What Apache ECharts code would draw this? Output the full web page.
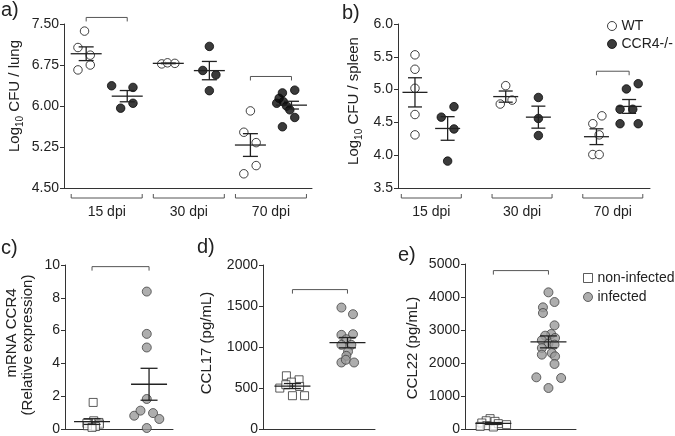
<!DOCTYPE html>
<html><head><meta charset="utf-8">
<script src="https://cdn.jsdelivr.net/npm/echarts@6/dist/echarts.min.js"></script>
<style>html,body{margin:0;padding:0;background:#fff}#c{width:675px;height:436px}</style>
</head><body><div id="c"></div>
<script>
// ---------- DATA ----------
// Panel a: Log10 CFU / lung
const aGroups = ['15 dpi', '30 dpi', '70 dpi'];
const aTicks = [4.50, 5.25, 6.00, 6.75, 7.50];
const aWT = [[7.37, 7.07, 6.93, 6.75, 6.66], [6.77, 6.79, 6.78], [5.91, 5.52, 5.33, 4.91, 4.76]];
const aWTjit = [[-0.02, -0.10, 0.05, 0.05, -0.10], [-0.08, -0.01, 0.08], [0, -0.08, 0.07, 0.07, -0.08]];
const aKO = [[6.37, 6.34, 6.05, 5.96], [7.09, 6.65, 6.57, 6.28], [6.29, 6.24, 6.14, 6.05, 6.08, 6.00, 5.93, 5.79, 5.62]];
const aKOjit = [[-0.19, 0.07, 0.07, -0.08], [0, -0.08, 0.08, 0], [0.04, -0.11, -0.15, -0.18, -0.10, -0.06, -0.02, 0.04, -0.11]];
const aSigGroup = [0, 2];
const aSigY = [7.62, 6.54];

// Panel b: Log10 CFU / spleen
const bGroups = ['15 dpi', '30 dpi', '70 dpi'];
const bTicks = [3.5, 4.0, 4.5, 5.0, 5.5, 6.0];
const bWT = [[5.53, 5.31, 5.02, 4.62, 4.31], [5.06, 4.78, 4.84], [4.60, 4.48, 4.31, 4.01, 4.01]];
const bWTjit = [[0, 0, 0, 0, 0], [0, -0.06, 0.07], [0.06, -0.04, 0.03, -0.04, 0.03]];
const bKO = [[4.74, 4.58, 4.40, 3.91], [4.88, 4.56, 4.30], [5.09, 5.01, 4.70, 4.70, 4.48, 4.48]];
const bKOjit = [[0.07, -0.07, 0.07, 0], [0, 0, 0], [0.10, -0.03, -0.10, 0.04, -0.10, 0.10]];
const bSigGroup = [2];
const bSigY = [5.28];

// Panel c: mRNA CCR4
const cNon = [1.62, 0.5, 0.4, 0.35, 0.3, 0.2, 0.15, 0.1];
const cNonJit = [0.02, 0.03, 0.12, -0.09, 0.13, -0.08, 0.06, 0];
const cInf = [8.38, 5.8, 4.97, 1.83, 0.81, 1.12, 0.97, 0.61, 0.06];
const cInfJit = [-0.04, -0.04, -0.04, -0.04, -0.26, -0.15, 0.07, 0.18, -0.04];
const cSigY = 9.9;

// Panel d: CCL17
const dNon = [649, 600, 572, 499, 540, 519, 406, 406];
const dNonJit = [-0.11, 0.12, -0.02, -0.23, -0.12, 0.13, 0, 0.22];
const dInf = [1481, 1400, 1148, 1156, 1095, 1026, 1026, 945, 892, 811, 844, 811];
const dInfJit = [-0.11, 0.1, -0.11, 0.1, -0.02, -0.11, 0.07, 0.01, -0.02, -0.11, -0.03, 0.12];
const dSigY = 1700;

// Panel e: CCL22
const eNon = [313, 250, 232, 182, 162, 131, 101, 80, 61];
const eNonJit = [-0.06, -0.13, 0.03, -0.21, 0.09, 0.24, -0.12, -0.24, 0];
const eInf = [4141, 3848, 3687, 3515, 3141, 2879, 2828, 2758, 2687, 2585, 2556, 2455, 2303, 2253, 2202, 1970, 1566, 1545, 1242];
const eInfJit = [0, 0.11, -0.10, -0.10, 0.11, 0.05, -0.06, 0.12, -0.12, 0, 0.11, -0.12, 0.06, -0.12, 0.12, 0.11, -0.22, 0.23, 0];
const eSigY = 4800;

// ---------- BUILD ----------
const FONT = 'Liberation Sans, Arial, sans-serif';
const INK = '#222';
const TICKFS = 14, TITLEFS = 15;
function meanSem(arr) {
  const n = arr.length, m = arr.reduce((s, v) => s + v, 0) / n;
  const sd = Math.sqrt(arr.reduce((s, v) => s + (v - m) * (v - m), 0) / (n - 1));
  return [m, sd / Math.sqrt(n)];
}
const grids = [
  {left: 64, top: 24, width: 248, height: 164},
  {left: 398, top: 24, width: 252, height: 164},
  {left: 65, top: 265, width: 108, height: 164},
  {left: 263, top: 265, width: 112, height: 164},
  {left: 465, top: 264, width: 111, height: 165}
];
const xr = [[0.48, 3.5], [0.633, 3.41], [0.526, 2.42], [0.465, 2.5], [0.485, 2.5]];
const yr = [[aTicks[0], aTicks[aTicks.length - 1], 0.75, 2], [bTicks[0], bTicks[bTicks.length - 1], 0.5, 1], [0, 10, 2, 0], [0, 2000, 500, 0], [0, 5000, 1000, 0]];

const xAxis = grids.map((g, i) => ({
  gridIndex: i, type: 'value', min: xr[i][0], max: xr[i][1],
  axisLine: {show: true, onZero: false, lineStyle: {color: '#333', width: 1}},
  axisTick: {show: false}, axisLabel: {show: false}, splitLine: {show: false}
}));
const yAxis = grids.map((g, i) => ({
  gridIndex: i, type: 'value', min: yr[i][0], max: yr[i][1], interval: yr[i][2],
  axisLine: {show: true, lineStyle: {color: '#333', width: 1}},
  axisTick: {show: true, length: 4, lineStyle: {color: '#333'}},
  axisLabel: {fontSize: TICKFS, color: INK, fontFamily: FONT, margin: 5, formatter: v => v.toFixed(yr[i][3])},
  splitLine: {show: false}
}));

const series = [];
const styleWT = {color: '#fff', borderColor: '#111', borderWidth: 1};
const styleKO = {color: '#0a0a0a', borderColor: '#0a0a0a', borderWidth: 1};
const styleNon = {color: '#fff', borderColor: '#333', borderWidth: 1};
const styleInf = {color: '#9a9a9a', borderColor: '#444', borderWidth: 1};

function scatter(name, gi, pos, vals, jit, symbol, size, style) {
  series.push({
    name, type: 'scatter', xAxisIndex: gi, yAxisIndex: gi, symbol, symbolSize: size,
    itemStyle: style, z: 2, silent: true,
    data: vals.map((v, k) => [pos + jit[k], v])
  });
}
function meanBars(gi, items, mw, cw) {
  series.push({
    type: 'custom', xAxisIndex: gi, yAxisIndex: gi, clip: false, z: 5, silent: true,
    data: items,
    renderItem: (params, api) => {
      const x = api.value(0), m = api.value(1), s = api.value(2);
      const p = api.coord([x, m]), hi = api.coord([x, m + s]), lo = api.coord([x, m - s]);
      const st = {stroke: INK, lineWidth: 1.3};
      return {type: 'group', children: [
        {type: 'line', shape: {x1: p[0] - mw / 2, y1: p[1], x2: p[0] + mw / 2, y2: p[1]}, style: st},
        {type: 'line', shape: {x1: p[0], y1: hi[1], x2: p[0], y2: lo[1]}, style: st},
        {type: 'line', shape: {x1: p[0] - cw / 2, y1: hi[1], x2: p[0] + cw / 2, y2: hi[1]}, style: st},
        {type: 'line', shape: {x1: p[0] - cw / 2, y1: lo[1], x2: p[0] + cw / 2, y2: lo[1]}, style: st}
      ]};
    }
  });
}
function sigBrackets(gi, items) {
  series.push({
    type: 'custom', xAxisIndex: gi, yAxisIndex: gi, clip: false, z: 4, silent: true,
    data: items,
    renderItem: (params, api) => {
      const a = api.coord([api.value(0), api.value(2)]), b = api.coord([api.value(1), api.value(2)]);
      return {type: 'polyline', shape: {points: [[a[0], a[1] + 4], [a[0], a[1]], [b[0], b[1]], [b[0], b[1] + 4]]},
        style: {stroke: '#555', lineWidth: 1, fill: null}};
    }
  });
}
function groupBrackets(gi, groups, ymin, hw) {
  series.push({
    type: 'custom', xAxisIndex: gi, yAxisIndex: gi, clip: false, z: 4, silent: true,
    data: groups.map((g, k) => [k + 1, ymin]),
    renderItem: (params, api) => {
      const p = api.coord([api.value(0), api.value(1)]);
      const y = p[1] + 10;
      return {type: 'group', children: [
        {type: 'polyline', shape: {points: [[p[0] - hw, y - 4], [p[0] - hw, y], [p[0] + hw, y], [p[0] + hw, y - 4]]},
          style: {stroke: '#555', lineWidth: 1, fill: null}},
        {type: 'text', style: {x: p[0], y: y + 14, text: groups[params.dataIndex], fontSize: TICKFS, fontFamily: FONT,
          fill: INK, align: 'center', verticalAlign: 'middle'}}
      ]};
    }
  });
}

// Panel a
const aOff = 0.25;
const aMeans = [];
aWT.forEach((vals, g) => { scatter('WT', 0, g + 1 - aOff, vals, aWTjit[g], 'circle', 8.5, styleWT); const ms = meanSem(vals); aMeans.push([g + 1 - aOff, ms[0], ms[1]]); });
aKO.forEach((vals, g) => { scatter('CCR4-/-', 0, g + 1 + aOff, vals, aKOjit[g], 'circle', 8.5, styleKO); const ms = meanSem(vals); aMeans.push([g + 1 + aOff, ms[0], ms[1]]); });
meanBars(0, aMeans, 31, 15);
sigBrackets(0, aSigGroup.map((g, k) => [g + 1 - aOff, g + 1 + aOff, aSigY[k]]));
groupBrackets(0, aGroups, aTicks[0], 35.5);

// Panel b
const bOff = 0.18;
const bMeans = [];
bWT.forEach((vals, g) => { scatter('WT', 1, g + 1 - bOff, vals, bWTjit[g], 'circle', 8.5, styleWT); const ms = meanSem(vals); bMeans.push([g + 1 - bOff, ms[0], ms[1]]); });
bKO.forEach((vals, g) => { scatter('CCR4-/-', 1, g + 1 + bOff, vals, bKOjit[g], 'circle', 8.5, styleKO); const ms = meanSem(vals); bMeans.push([g + 1 + bOff, ms[0], ms[1]]); });
meanBars(1, bMeans, 25, 14);
sigBrackets(1, bSigGroup.map((g, k) => [g + 1 - bOff, g + 1 + bOff, bSigY[k]]));
groupBrackets(1, bGroups, bTicks[0], 30);

// Panels c, d, e
[[2, cNon, cNonJit, cInf, cInfJit, cSigY], [3, dNon, dNonJit, dInf, dInfJit, dSigY], [4, eNon, eNonJit, eInf, eInfJit, eSigY]].forEach(([gi, non, nj, inf, ij, sy]) => {
  scatter('non-infected', gi, 1, non, nj, 'rect', 8, styleNon);
  scatter('infected', gi, 2, inf, ij, 'circle', 9, styleInf);
  const m1 = meanSem(non), m2 = meanSem(inf);
  meanBars(gi, [[1, m1[0], m1[1]], [2, m2[0], m2[1]]], 36, 17);
  sigBrackets(gi, [[1, 2, sy]]);
});

function vtext(x, y, text, rich) {
  return {type: 'text', x, y, rotation: Math.PI / 2, silent: true,
    style: {text, fontSize: TITLEFS, fontFamily: FONT, fill: INK, align: 'center', verticalAlign: 'middle', rich}};
}
const subRich = {a: {fontSize: TITLEFS, fontFamily: FONT, fill: INK, lineHeight: 18, verticalAlign: 'bottom'},
  s: {fontSize: 10, fontFamily: FONT, fill: INK, lineHeight: 18, verticalAlign: 'bottom', padding: [0, 0, -3, 0]}};
function letter(x, y, t) {
  return {type: 'text', x, y, silent: true, style: {text: t, fontSize: 20, fontFamily: FONT, fill: INK, align: 'left', verticalAlign: 'top'}};
}

const option = {
  animation: false,
  backgroundColor: '#fff',
  grid: grids,
  xAxis, yAxis, series,
  legend: [
    {data: ['WT', 'CCR4-/-'], orient: 'vertical', left: 607, top: 19, padding: 0, itemWidth: 9, itemHeight: 9, itemGap: 4,
      itemStyle: {borderWidth: 1}, selectedMode: false, textStyle: {fontSize: 14, color: INK, fontFamily: FONT}},
    {data: ['non-infected', 'infected'], orient: 'vertical', left: 583, top: 271, padding: 0, itemWidth: 9, itemHeight: 9, itemGap: 5,
      itemStyle: {borderWidth: 1}, selectedMode: false, textStyle: {fontSize: 14, color: INK, fontFamily: FONT}}
  ],
  graphic: [
    letter(1, 0, 'a)'), letter(342, 3, 'b)'), letter(1, 238, 'c)'), letter(197, 237, 'd)'), letter(398, 245, 'e)'),
    vtext(13, 96, '{a|Log}{s|10}{a| CFU / lung}', subRich),
    vtext(352, 101, '{a|Log}{s|10}{a| CFU / spleen}', subRich),
    vtext(12, 333, 'mRNA CCR4'),
    vtext(28, 345, '(Relative expression)'),
    vtext(207, 343, 'CCL17 (pg/mL)'),
    vtext(413, 348, 'CCL22 (pg/mL)')
  ]
};
const chart = echarts.init(document.getElementById('c'));
chart.setOption(option);
</script>
</body></html>
